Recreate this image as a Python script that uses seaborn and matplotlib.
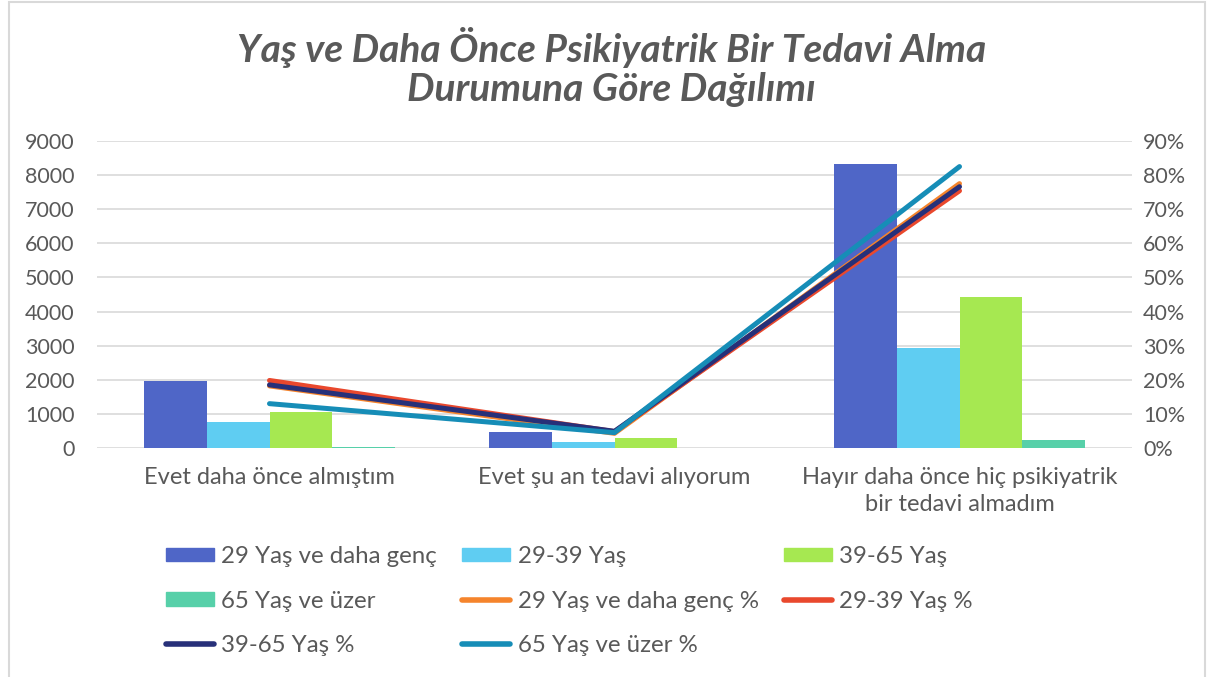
import numpy as np
import pandas as pd
import matplotlib
matplotlib.use("Agg")
import matplotlib.pyplot as plt
import seaborn as sns
from matplotlib.patches import Patch, Rectangle
from matplotlib.lines import Line2D
from matplotlib.ticker import FuncFormatter

# ---- data ----
categories = ["Evet daha önce almıştım", "Evet şu an tedavi alıyorum",
              "Hayır daha önce hiç psikiyatrik\nbir tedavi almadım"]
age_groups = ["29 Yaş ve daha genç", "29-39 Yaş", "39-65 Yaş", "65 Yaş ve üzer"]

counts_29_alti = [1960, 460, 8330]
counts_29_39 = [770, 185, 2925]
counts_39_65 = [1065, 285, 4420]
counts_65_ustu = [37, 13, 235]

pct_29_alti = [18.2, 4.3, 77.5]
pct_29_39 = [19.8, 4.8, 75.4]
pct_39_65 = [18.5, 4.9, 76.6]
pct_65_ustu = [13.0, 4.5, 82.5]

bar_colors = ["#4F66C7", "#5FCDF2", "#A6E851", "#57D0A9"]
line_colors = ["#F5842C", "#E9482D", "#273079", "#168DB7"]
text_color = "#595959"

# ---- frames ----
bars = pd.DataFrame({
    "cat": np.repeat(categories, len(age_groups)),
    "age": age_groups * len(categories),
    "value": np.array([counts_29_alti, counts_29_39, counts_39_65, counts_65_ustu]).T.ravel(),
})
pct_labels = [a + " %" for a in age_groups]
lines = pd.DataFrame({
    "x": np.tile(np.arange(len(categories)), len(age_groups)),
    "series": np.repeat(pct_labels, len(categories)),
    "pct": np.concatenate([pct_29_alti, pct_29_39, pct_39_65, pct_65_ustu]),
})

sns.set_theme(style="white")
plt.rcParams["font.family"] = ["Lato", "DejaVu Sans"]

fig = plt.figure(figsize=(12.09, 6.77), dpi=100)
W, H = 1209, 677
ax = fig.add_axes([97 / W, 1 - 448 / H, (1132 - 97) / W, (448 - 141) / H])

sns.barplot(data=bars, x="cat", y="value", hue="age", palette=bar_colors,
            width=0.725, gap=0, saturation=1, legend=False, ax=ax, zorder=2,
            linewidth=0)
ax.set_ylim(0, 9000)
ax.set_xlim(-0.5, 2.5)
ax.set_yticks(np.arange(0, 9001, 1000))
ax.grid(axis="y", color="#D9D9D9", lw=1.2, zorder=0)
ax.set_axisbelow(True)
for s in ax.spines.values():
    s.set_visible(False)
ax.set_xlabel("")
ax.set_ylabel("")
ax.tick_params(axis="y", length=0, labelsize=15.5, colors=text_color, pad=16)
ax.tick_params(axis="x", length=0, labelsize=17, colors=text_color, pad=14)
ax.set_xticks(range(len(categories)))
ax.set_xticklabels(categories, va="top", linespacing=1.3)

ax2 = ax.twinx()
sns.lineplot(data=lines, x="x", y="pct", hue="series", palette=line_colors,
             hue_order=pct_labels, lw=3.6, legend=False, ax=ax2, sort=False,
             solid_capstyle="round")
ax2.set_ylim(0, 90)
ax2.set_yticks(np.arange(0, 91, 10))
ax2.yaxis.set_major_formatter(FuncFormatter(lambda v, _: f"{v:.0f}%"))
for s in ax2.spines.values():
    s.set_visible(False)
ax2.set_ylabel("")
ax2.set_xlabel("")
ax2.tick_params(axis="y", length=0, labelsize=15.5, colors=text_color, pad=8)
ax2.grid(False)
ax2.set_xlim(-0.5, 2.5)

fig.text(0.506, 1 - 67 / H, "Yaş ve Daha Önce Psikiyatrik Bir Tedavi Alma\nDurumuna Göre Dağılımı",
         ha="center", va="center", fontsize=28, fontweight="bold", fontstyle="italic",
         color=text_color, linespacing=1.12)

# legend, Excel fills row by row -> reorder for matplotlib's column filling
handles = [Patch(color=c) for c in bar_colors] + \
          [Line2D([], [], color=c, lw=4, solid_capstyle="round") for c in line_colors]
labels = age_groups + pct_labels
order = [0, 3, 6, 1, 4, 7, 2, 5]
fig.legend([handles[i] for i in order], [labels[i] for i in order],
           loc="upper left", bbox_to_anchor=(166 / W, 1 - 546 / H), ncol=3,
           frameon=False, fontsize=17.3, labelcolor=text_color, borderpad=0,
           borderaxespad=0, handlelength=2.0, handleheight=0.5, handletextpad=0.3,
           columnspacing=1.05, labelspacing=0.98)

# chart frame
fig.patches.append(Rectangle((9 / W, -0.01), (1205 - 9) / W, 1 - 2 / H + 0.01,
                             transform=fig.transFigure, fill=False,
                             ec="#D9D9D9", lw=1.5))

fig.savefig("out.png", dpi=100)
